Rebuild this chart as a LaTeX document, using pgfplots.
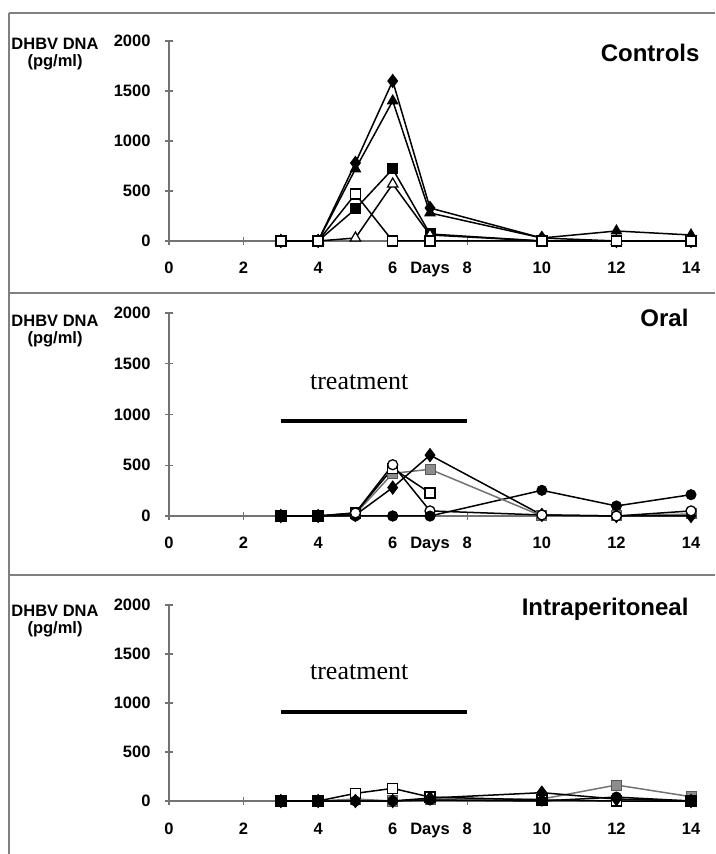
\documentclass[border=0pt]{standalone}
\usepackage{fontspec}
\setmainfont{Liberation Sans}
\newfontfamily\seriffont{Liberation Serif}
\usepackage{pgfplots}
\pgfplotsset{compat=1.18}
\begin{document}
\begin{tikzpicture}[x=1pt,y=1pt]
\useasboundingbox (0,0) rectangle (715,854);
\pgfplotsset{
 panel/.style={
  scale only axis, width=522pt, xmin=0,xmax=14,ymin=0,ymax=2000,
  axis lines*=left, clip=false,
  axis line style={draw=black!55, line width=1.2pt},
  xtick={0,2,...,14}, ytick={0,500,...,2000},
  tick align=center, major tick length=8pt,
  tick style={black!55, line width=1.2pt},
  tick label style={font=\fontsize{16.5}{16.5}\selectfont\bfseries},
  /pgf/number format/assume math mode=true,
  /pgf/number format/set thousands separator={},
  scaled ticks=false,
  extra x ticks={7}, extra x tick labels={Days},
  extra x tick style={major tick length=0pt, xticklabel style={yshift=-4pt}},
  xticklabel style={anchor=base, yshift=-29pt}, yticklabel style={xshift=-11pt},
  every axis plot/.append style={line width=1.5pt},
 },
 fdia/.style={black, mark=diamond*, mark size=6.5pt, mark options={solid, fill=black, line width=1pt}},
 ftri/.style={black, mark=triangle*, mark size=6pt, mark options={solid, fill=black, line width=1pt}},
 fsq/.style={black, mark=square*, mark size=5pt, mark options={solid, fill=black, line width=1pt}},
 osq/.style={black, mark=square*, mark size=5pt, mark options={solid, fill=white, line width=1.3pt}},
 otri/.style={black, mark=triangle*, mark size=6pt, mark options={solid, fill=white, line width=1.2pt}},
 fcirc/.style={black, mark=*, mark size=5pt, mark options={solid, fill=black, line width=1pt}},
 ocirc/.style={black, mark=*, mark size=5pt, mark options={solid, fill=white, line width=1.3pt}},
 gsq/.style={black!55, mark=square*, mark size=5pt, mark options={solid, fill=black!45, draw=black!65, line width=1pt}},
 tbar/.style={black, line width=4pt, no marks},
}
% frame lines
\draw[black!50, line width=1.5pt] (9,841) -- (715,841);
\draw[black!50, line width=1.5pt] (9,561) -- (715,561);
\draw[black!50, line width=1.5pt] (9,279) -- (715,279);
\draw[black!50, line width=1.5pt] (9,841) -- (9,0);

% ---------------- Controls ----------------
\begin{axis}[panel, height=200pt, at={(169pt,613pt)}, anchor=south west]
\addplot[ftri] coordinates {(3,0)(4,0)(5,720)(6,1400)(7,280)(10,30)(12,100)(14,60)};
\addplot[fdia] coordinates {(3,0)(4,0)(5,780)(6,1600)(7,330)(10,30)(12,0)(14,0)};
\addplot[fsq] coordinates {(3,0)(4,0)(5,320)(6,720)(7,70)(10,0)(12,0)(14,0)};
\addplot[otri] coordinates {(3,0)(4,0)(5,30)(6,570)(7,60)(10,0)(12,0)(14,0)};
\addplot[osq] coordinates {(3,0)(4,0)(5,470)(6,0)(7,0)(10,0)(12,0)(14,0)};
\end{axis}

% ---------------- Oral ----------------
\begin{axis}[panel, height=203pt, at={(169pt,338pt)}, anchor=south west]
\addplot[tbar] coordinates {(3,940)(8,940)};
\node[font=\fontsize{26}{26}\selectfont\seriffont] at (axis cs:5.1,1320) {treatment};
\addplot[fcirc] coordinates {(3,0)(4,0)(5,0)(6,0)(7,0)(10,253)(12,99)(14,210)};
\addplot[gsq] coordinates {(3,0)(4,0)(5,20)(6,420)(7,460)(10,0)(12,0)(14,20)};
\addplot[fdia] coordinates {(3,0)(4,0)(5,10)(6,280)(7,600)(10,10)(12,0)(14,0)};
\addplot[osq] coordinates {(3,0)(4,0)(5,30)(6,470)(7,227)};
\addplot[ocirc] coordinates {(3,0)(4,0)(5,30)(6,505)(7,50)(10,10)(12,0)(14,50)};
\addplot[fcirc, only marks] coordinates {(6,0)(7,0)};
\addplot[fsq] coordinates {(3,0)(4,0)};
\end{axis}

% ---------------- Intraperitoneal ----------------
\begin{axis}[panel, height=196pt, at={(169pt,53pt)}, anchor=south west]
\addplot[tbar] coordinates {(3,908)(8,908)};
\node[font=\fontsize{26}{26}\selectfont\seriffont] at (axis cs:5.1,1316) {treatment};
\addplot[gsq] coordinates {(3,0)(4,0)(5,20)(6,0)(7,20)(10,20)(12,163)(14,44)};
\addplot[osq] coordinates {(3,0)(4,0)(5,78)(6,129)(7,40)(10,10)(12,0)(14,0)};
\addplot[fdia] coordinates {(3,0)(4,0)(5,0)(6,0)(7,30)(10,85)(12,20)(14,0)};
\addplot[fcirc] coordinates {(3,0)(4,0)(5,0)(6,0)(7,10)(10,0)(12,40)(14,0)};
\addplot[fsq] coordinates {(3,0)(4,0)};
\end{axis}

% titles
\node[anchor=base east, font=\fontsize{24}{24}\selectfont\bfseries] at (703,792) {Controls};
\node[anchor=base east, font=\fontsize{24}{24}\selectfont\bfseries] at (692,527) {Oral};
\node[anchor=base east, font=\fontsize{24}{24}\selectfont\bfseries] at (692,238) {Intraperitoneal};

% y labels
\foreach \yy in {816,539,249}{
 \node[anchor=north, align=center, inner sep=0pt, font=\fontsize{16.5}{16.5}\selectfont\bfseries] at (55,\yy) {DHBV DNA\\(pg/ml)};
}
\end{tikzpicture}
\end{document}
